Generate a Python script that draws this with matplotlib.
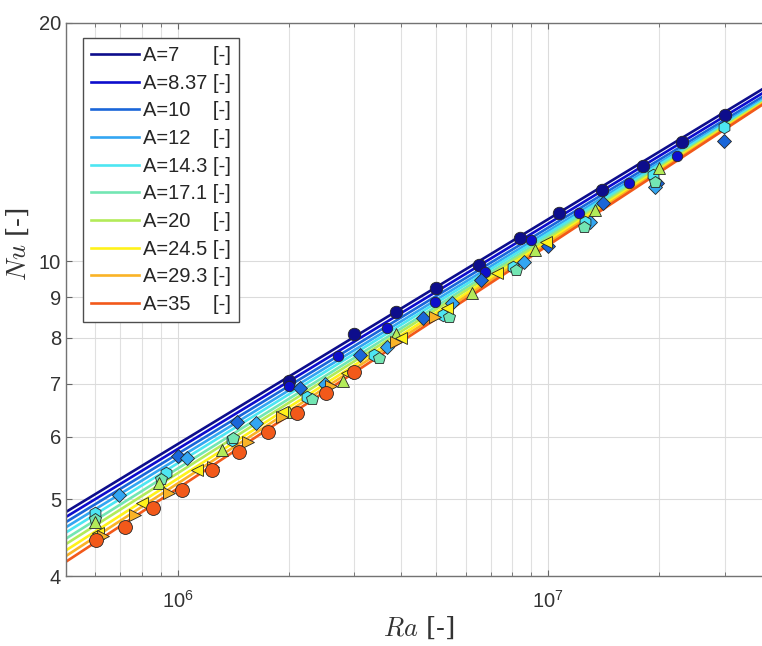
import matplotlib.pyplot as plt
from matplotlib.ticker import FixedLocator, FixedFormatter, NullLocator, LogLocator

plt.rcParams['font.family'] = ['Liberation Sans', 'DejaVu Sans']
plt.rcParams['mathtext.fontset'] = 'cm'

ASPECT = [7, 8.37, 10, 12, 14.3, 17.1, 20, 24.5, 29.3, 35]
LABELS = ['A=7      [-]', 'A=8.37 [-]', 'A=10    [-]', 'A=12    [-]', 'A=14.3 [-]',
          'A=17.1 [-]', 'A=20    [-]', 'A=24.5 [-]', 'A=29.3 [-]', 'A=35    [-]']
COLORS = [(0.05, 0.05, 0.55), (0.05, 0.05, 0.80), (0.10, 0.40, 0.85), (0.20, 0.65, 0.95),
          (0.30, 0.90, 0.95), (0.45, 0.90, 0.70), (0.70, 0.92, 0.35), (1.00, 0.95, 0.10),
          (0.98, 0.70, 0.15), (0.95, 0.35, 0.10)]
MARKERS = ['o', 'o', 'D', 'D', 'h', 'p', '^', '<', '>', 'o']
MSIZE = [9, 7.5, 7.5, 7.5, 9, 9, 9, 9, 9, 10]

# fitted correlation lines: Nu at the two ends of the Ra range
LINE_RA = [5e5, 4e7]
LINE_NU = [[4.82, 16.75], [4.75, 16.55], [4.68, 16.38], [4.61, 16.26], [4.54, 16.2],
           [4.46, 16.15], [4.39, 16.12], [4.31, 16.09], [4.24, 16.06], [4.17, 16.03]]

# measured points per aspect ratio
RA_7 = [2.0e6, 3.0e6, 3.9e6, 5.0e6, 6.5e6, 8.4e6, 1.07e7, 1.4e7, 1.8e7, 2.3e7, 3.0e7]
NU_7 = [7.05, 8.1, 8.62, 9.25, 9.9, 10.7, 11.5, 12.3, 13.2, 14.15, 15.3]
RA_837 = [2.0e6, 2.71e6, 3.67e6, 4.95e6, 6.76e6, 9.0e6, 1.21e7, 1.65e7, 2.23e7]
NU_837 = [6.95, 7.59, 8.23, 8.88, 9.69, 10.64, 11.5, 12.56, 13.6]
RA_10 = [1.0e6, 1.45e6, 2.14e6, 3.1e6, 4.6e6, 6.6e6, 1.0e7, 1.41e7, 1.97e7, 2.99e7]
NU_10 = [5.67, 6.26, 6.92, 7.61, 8.48, 9.47, 10.45, 11.84, 12.56, 14.2]
RA_12 = [6.96e5, 1.06e6, 1.63e6, 2.5e6, 3.67e6, 5.5e6, 8.6e6, 1.3e7, 1.95e7]
NU_12 = [5.06, 5.64, 6.24, 7.0, 7.79, 8.86, 9.98, 11.2, 12.4]
RA_143 = [6.0e5, 9.3e5, 1.4e6, 2.23e6, 3.4e6, 5.2e6, 8.06e6, 1.26e7, 1.92e7, 2.99e7]
NU_143 = [4.8, 5.4, 5.95, 6.74, 7.6, 8.55, 9.82, 11.2, 12.86, 14.76]
RA_171 = [6.0e5, 9.0e5, 1.41e6, 2.3e6, 3.5e6, 5.4e6, 8.2e6, 1.25e7, 1.95e7]
NU_171 = [4.72, 5.3, 5.98, 6.7, 7.55, 8.5, 9.75, 11.05, 12.6]
RA_20 = [6.0e5, 8.9e5, 1.32e6, 2.0e6, 2.8e6, 3.9e6, 6.24e6, 9.2e6, 1.34e7, 2.0e7]
NU_20 = [4.68, 5.24, 5.77, 6.45, 7.05, 8.1, 9.11, 10.34, 11.6, 13.1]
RA_245 = [6.1e5, 8.0e5, 1.13e6, 1.92e6, 2.87e6, 4.0e6, 5.33e6, 7.28e6, 9.9e6]
NU_245 = [4.53, 4.95, 5.44, 6.44, 7.22, 8.0, 8.73, 9.66, 10.57]
RA_293 = [6.3e5, 7.66e5, 9.5e5, 1.25e6, 1.55e6, 1.92e6, 2.6e6, 3.9e6, 4.95e6]
NU_293 = [4.5, 4.78, 5.1, 5.5, 5.9, 6.35, 6.95, 7.9, 8.5]
RA_35 = [6.04e5, 7.2e5, 8.56e5, 1.03e6, 1.24e6, 1.47e6, 1.75e6, 2.1e6, 2.51e6, 3.0e6]
NU_35 = [4.44, 4.61, 4.88, 5.14, 5.44, 5.74, 6.08, 6.42, 6.82, 7.25]

RA_PTS = [RA_7, RA_837, RA_10, RA_12, RA_143, RA_171, RA_20, RA_245, RA_293, RA_35]
NU_PTS = [NU_7, NU_837, NU_10, NU_12, NU_143, NU_171, NU_20, NU_245, NU_293, NU_35]

Y_TICKS = [4, 5, 6, 7, 8, 9, 10, 20]

fig = plt.figure(figsize=(7.62, 6.46), dpi=100)
ax = fig.add_axes([66 / 762, 70 / 646, 705 / 762, 553 / 646])

for i in range(len(ASPECT)):
    ax.plot(LINE_RA, LINE_NU[i], color=COLORS[i], lw=1.9, label=LABELS[i], zorder=2)

for i in range(len(ASPECT)):
    ax.plot(RA_PTS[i], NU_PTS[i], ls='none', marker=MARKERS[i], ms=MSIZE[i],
            mfc=COLORS[i], mec=(0.15, 0.15, 0.15), mew=0.6, zorder=3)

ax.set_xscale('log')
ax.set_yscale('log')
ax.set_xlim(5e5, 4e7)
ax.set_ylim(4, 20)

ax.yaxis.set_major_locator(FixedLocator(Y_TICKS))
ax.yaxis.set_major_formatter(FixedFormatter([str(t) for t in Y_TICKS]))
ax.yaxis.set_minor_locator(NullLocator())
ax.xaxis.set_minor_locator(LogLocator(base=10, subs=range(2, 10)))

ax.grid(True, which='major', color=(0.86, 0.86, 0.86), lw=0.8)
ax.grid(True, which='minor', axis='x', color=(0.88, 0.88, 0.88), lw=0.8)
ax.set_axisbelow(True)

ax.tick_params(which='both', direction='in', top=True, right=True,
               colors=(0.4, 0.4, 0.4), labelcolor=(0.2, 0.2, 0.2), labelsize=14.5)
ax.tick_params(which='major', length=4)
ax.tick_params(which='minor', length=3)
ax.tick_params(axis='x', which='major', pad=10)
for s in ax.spines.values():
    s.set_color((0.45, 0.45, 0.45))
    s.set_linewidth(1.0)

ax.set_xlabel(r'$Ra$ [-]', fontsize=19, fontfamily='DejaVu Serif', color=(0.2, 0.2, 0.2))
ax.set_ylabel(r'$Nu$ [-]', fontsize=19, fontfamily='DejaVu Serif', color=(0.2, 0.2, 0.2))
ax.xaxis.set_label_coords(0.5, -0.07)
ax.yaxis.set_label_coords(-0.05, 0.60)

leg = ax.legend(loc='upper left', bbox_to_anchor=(0.024, 0.973), borderaxespad=0,
                fontsize=14.5, handlelength=2.4, handletextpad=0.2, labelspacing=0.43,
                borderpad=0.4, fancybox=False, framealpha=1, edgecolor=(0.3, 0.3, 0.3))
leg.get_frame().set_linewidth(1.0)
for t in leg.get_texts():
    t.set_color((0.15, 0.15, 0.15))

fig.savefig('out.png', dpi=100)
